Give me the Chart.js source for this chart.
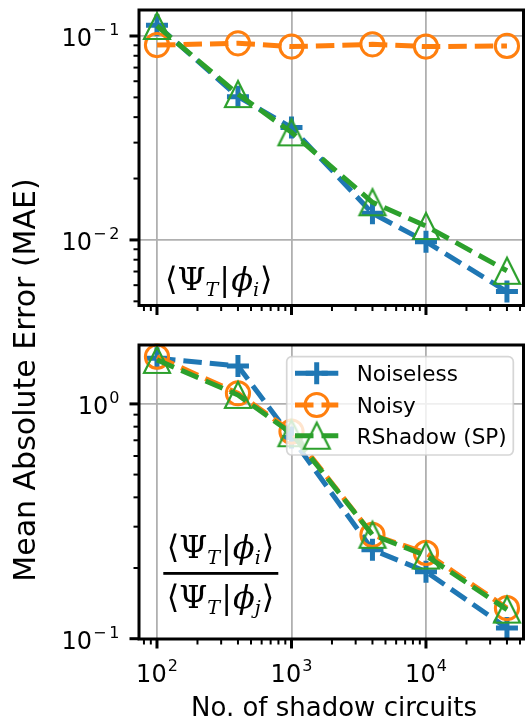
<!DOCTYPE html>
<html>
<head>
<meta charset="utf-8">
<script src="https://cdn.jsdelivr.net/npm/chart.js@4.4.1/dist/chart.umd.min.js"></script>
<style>
  html, body { margin: 0; padding: 0; background: #ffffff; }
  #wrap { position: relative; width: 527px; height: 720px; overflow: hidden; background: #ffffff; }
  #wrap canvas { position: absolute; left: 0; top: 0; }
</style>
</head>
<body>
<div id="wrap">
  <canvas id="overlapChart" width="527" height="720"></canvas>
  <canvas id="ratioChart" width="527" height="720"></canvas>
</div>
<script>
// ---- data -----------------------------------------------------------------
const shots = [100, 400, 1000, 4000, 10000, 40000];

// <Psi_T|phi_i>
const overlapNoiseless = [0.113, 0.0504, 0.0356, 0.0135, 0.0098, 0.00558];
const overlapNoisy     = [0.0903, 0.0921, 0.0887, 0.0910, 0.0887, 0.0894];
const overlapRShadow   = [0.112, 0.0519, 0.0337, 0.0153, 0.0117, 0.00706];

// <Psi_T|phi_i> / <Psi_T|phi_j>
const ratioNoiseless = [1.565, 1.451, 0.72, 0.239, 0.193, 0.111];
const ratioNoisy     = [1.589, 1.11, 0.762, 0.277, 0.232, 0.135];
const ratioRShadow   = [1.54, 1.092, 0.75, 0.277, 0.226, 0.133];

const seriesNames = ['Noiseless', 'Noisy', 'RShadow (SP)'];
const xTickExponents = [2, 3, 4];
const overlapTickExponents = [-1, -2];
const ratioTickExponents = [0, -1];
const xTitle = 'No. of shadow circuits';
const yTitle = 'Mean Absolute Error (MAE)';

// ---- styling ----------------------------------------------------------------
const SANS = '"DejaVu Sans", sans-serif';
const SERIF = '"DejaVu Serif", "DejaVu Sans", serif';
const COLORS = ['#1f77b4', '#ff7f0e', '#2ca02c'];
const GRID = '#b0b0b0';
const X_RANGE = [73.5, 53100];
const OVERLAP_RANGE = [0.00477, 0.1341];
const RATIO_RANGE = [0.0997, 1.782];
const PLOT_LEFT = 139, PLOT_RIGHT = 523.5;

// open triangle marker (apex up, equal width and height)
function triangleMarker(size, lw, color) {
  const s = 36;
  const c = document.createElement('canvas');
  c.width = s; c.height = s;
  const g = c.getContext('2d');
  const h = size / 2, m = s / 2;
  g.beginPath();
  g.moveTo(m, m - h);
  g.lineTo(m - h, m + h);
  g.lineTo(m + h, m + h);
  g.closePath();
  g.lineWidth = lw;
  g.lineJoin = 'miter';
  g.strokeStyle = color;
  g.stroke();
  return c;
}
const TRIANGLE = triangleMarker(26, 2.2, COLORS[2]);

function isPow10(v) {
  if (!(v > 0)) return false;
  const l = Math.log10(v);
  return Math.abs(l - Math.round(l)) < 1e-9;
}

function logTicks(lo, hi) {
  const out = [];
  for (let e = Math.floor(Math.log10(lo)); e <= Math.ceil(Math.log10(hi)); e++) {
    for (let m = 1; m < 10; m++) {
      const v = m * Math.pow(10, e);
      if (v >= lo * 0.9999 && v <= hi * 1.0001) out.push({ v, major: m === 1 });
    }
  }
  return out;
}

function buildDatasets(noiseless, noisy, rshadow) {
  const common = {
    borderWidth: 5,
    borderDash: [18.5, 8],
    borderCapStyle: 'butt',
    borderJoinStyle: 'round',
    tension: 0,
    fill: false,
    clip: false,
    pointBackgroundColor: 'rgba(0,0,0,0)'
  };
  return [
    Object.assign({}, common, {
      label: seriesNames[0],
      data: shots.map((x, i) => ({ x, y: noiseless[i] })),
      borderColor: COLORS[0],
      pointBorderColor: COLORS[0],
      pointStyle: 'cross',
      pointRadius: 11,
      pointBorderWidth: 5,
      order: 3
    }),
    Object.assign({}, common, {
      label: seriesNames[1],
      data: shots.map((x, i) => ({ x, y: noisy[i] })),
      borderColor: COLORS[1],
      pointBorderColor: COLORS[1],
      pointStyle: 'circle',
      pointRadius: 11.6,
      pointBorderWidth: 3,
      order: 2
    }),
    Object.assign({}, common, {
      label: seriesNames[2],
      data: shots.map((x, i) => ({ x, y: rshadow[i] })),
      borderColor: COLORS[2],
      pointBorderColor: COLORS[2],
      pointStyle: TRIANGLE,
      pointRadius: 14,
      pointBorderWidth: 2,
      order: 1
    })
  ];
}

// "10" with a raised exponent
function powerLabel(ctx, exp, x, baseline, align) {
  ctx.font = '24px ' + SANS;
  const wb = ctx.measureText('10').width;
  ctx.font = '16px ' + SANS;
  const parts = exp < 0 ? ['\u2212', String(-exp)] : [String(exp)];
  const gaps = exp < 0 ? [3, 0] : [0];
  let we = 0;
  parts.forEach((p, i) => { we += ctx.measureText(p).width + gaps[i]; });
  const total = wb + 1 + we;
  let sx = align === 'right' ? x - total : x - total / 2;
  ctx.textAlign = 'left';
  ctx.textBaseline = 'alphabetic';
  ctx.fillStyle = '#000';
  ctx.font = '24px ' + SANS;
  ctx.fillText('10', sx, baseline);
  let ex = sx + wb + 1;
  ctx.font = '16px ' + SANS;
  parts.forEach((p, i) => {
    ctx.fillText(p, ex, baseline - 11);
    ex += ctx.measureText(p).width + gaps[i];
  });
}

// simple math-style text run: <Psi_T|phi_k>
function braket(sub) {
  return [
    { t: '\u27E8' },
    { t: '\u03A8' },
    { t: 'T', italic: true, sub: true },
    { t: '|', dx: 1 },
    { t: '\u03D5', italic: true, dx: 1 },
    { t: sub, italic: true, sub: true },
    { t: '\u27E9', dx: 1 }
  ];
}
function mathWidth(ctx, pieces, size) {
  let w = 0;
  for (const p of pieces) {
    const sz = p.sub ? size * 0.6 : size;
    ctx.font = (p.italic ? 'italic ' : '') + sz + 'px ' + SERIF;
    w += ctx.measureText(p.t).width + (p.dx || 0);
  }
  return w;
}
function drawMath(ctx, pieces, x, baseline, size) {
  let cx = x;
  ctx.textAlign = 'left';
  ctx.textBaseline = 'alphabetic';
  ctx.fillStyle = '#000';
  for (const p of pieces) {
    const sz = p.sub ? size * 0.6 : size;
    ctx.font = (p.italic ? 'italic ' : '') + sz + 'px ' + SERIF;
    cx += (p.dx || 0);
    ctx.fillText(p.t, cx, baseline + (p.sub ? size * 0.2 : 0));
    cx += ctx.measureText(p.t).width;
  }
}

// axes frame, ticks and tick labels
function framePlugin(cfg) {
  return {
    id: 'frame',
    afterDatasetsDraw(chart) {
      const { ctx, chartArea: a, scales } = chart;
      const xs = scales.x, ys = scales.y;
      ctx.save();
      ctx.setLineDash([]);
      ctx.strokeStyle = '#000';
      ctx.lineCap = 'butt';
      // x ticks
      for (const t of logTicks(X_RANGE[0], X_RANGE[1])) {
        const px = xs.getPixelForValue(t.v);
        if (px < a.left - 0.5 || px > a.right + 0.5) continue;
        ctx.lineWidth = t.major ? 3 : 2;
        ctx.beginPath();
        ctx.moveTo(px, a.bottom);
        ctx.lineTo(px, a.bottom + (t.major ? 9.5 : 5.5));
        ctx.stroke();
      }
      // y ticks
      for (const t of logTicks(cfg.yRange[0], cfg.yRange[1])) {
        const py = ys.getPixelForValue(t.v);
        if (py < a.top - 0.5 || py > a.bottom + 0.5) continue;
        ctx.lineWidth = t.major ? 3 : 2;
        ctx.beginPath();
        ctx.moveTo(a.left, py);
        ctx.lineTo(a.left - (t.major ? 9.5 : 5.5), py);
        ctx.stroke();
      }
      // spines
      ctx.lineWidth = 3;
      ctx.lineJoin = 'miter';
      ctx.strokeRect(a.left, a.top, a.right - a.left, a.bottom - a.top);
      // y tick labels
      for (const e of cfg.yExponents) {
        const py = ys.getPixelForValue(Math.pow(10, e));
        powerLabel(ctx, e, 119.5, py + 10, 'right');
      }
      // x tick labels
      if (cfg.xLabels) {
        for (const e of xTickExponents) {
          const px = xs.getPixelForValue(Math.pow(10, e));
          powerLabel(ctx, e, px, 682, 'center');
        }
      }
      // in-panel quantity label
      cfg.annotate(ctx);
      ctx.restore();
    }
  };
}

const titlesPlugin = {
  id: 'titles',
  afterDraw(chart) {
    const ctx = chart.ctx;
    ctx.save();
    ctx.fillStyle = '#000';
    ctx.font = '26px ' + SANS;
    ctx.textAlign = 'center';
    ctx.textBaseline = 'alphabetic';
    ctx.fillText(xTitle, 334, 716);
    ctx.translate(35, 380);
    ctx.rotate(-Math.PI / 2);
    ctx.font = '30px ' + SANS;
    ctx.fillText(yTitle, 0, 0);
    ctx.restore();
  }
};

function drawLegendMarker(ctx, i, x, y) {
  ctx.save();
  ctx.setLineDash([]);
  if (i === 0) {
    ctx.strokeStyle = COLORS[0];
    ctx.lineWidth = 5;
    ctx.beginPath();
    ctx.moveTo(x - 11, y); ctx.lineTo(x + 11, y);
    ctx.moveTo(x, y - 11); ctx.lineTo(x, y + 11);
    ctx.stroke();
  } else if (i === 1) {
    ctx.strokeStyle = COLORS[1];
    ctx.lineWidth = 3;
    ctx.beginPath();
    ctx.arc(x, y, 11.6, 0, Math.PI * 2);
    ctx.stroke();
  } else {
    ctx.drawImage(TRIANGLE, x - TRIANGLE.width / 2, y - TRIANGLE.height / 2);
  }
  ctx.restore();
}

const legendPlugin = {
  id: 'mplLegend',
  afterDraw(chart) {
    const ctx = chart.ctx;
    const bx = 286.7, by = 356.7, bw = 226.6, bh = 98.3, r = 5;
    ctx.save();
    ctx.beginPath();
    ctx.moveTo(bx + r, by);
    ctx.lineTo(bx + bw - r, by);
    ctx.arcTo(bx + bw, by, bx + bw, by + r, r);
    ctx.lineTo(bx + bw, by + bh - r);
    ctx.arcTo(bx + bw, by + bh, bx + bw - r, by + bh, r);
    ctx.lineTo(bx + r, by + bh);
    ctx.arcTo(bx, by + bh, bx, by + bh - r, r);
    ctx.lineTo(bx, by + r);
    ctx.arcTo(bx, by, bx + r, by, r);
    ctx.closePath();
    ctx.fillStyle = 'rgba(255,255,255,0.8)';
    ctx.fill();
    ctx.strokeStyle = 'rgba(204,204,204,0.8)';
    ctx.lineWidth = 1.7;
    ctx.stroke();
    const rows = [373.3, 405, 435.7];
    seriesNames.forEach((name, i) => {
      const y = rows[i];
      ctx.save();
      ctx.strokeStyle = COLORS[i];
      ctx.lineWidth = 5;
      ctx.lineCap = 'butt';
      ctx.setLineDash([18.5, 8]);
      ctx.beginPath();
      ctx.moveTo(295, y);
      ctx.lineTo(338.3, y);
      ctx.stroke();
      ctx.restore();
      drawLegendMarker(ctx, i, 316.7, y);
      ctx.fillStyle = '#000';
      ctx.font = '21.5px ' + SANS;
      ctx.textAlign = 'left';
      ctx.textBaseline = 'alphabetic';
      ctx.fillText(name, 356.7, y + 7.8);
    });
    ctx.restore();
  }
};

function makeChart(canvasId, datasets, yRange, padTop, padBottom, plugins) {
  const gridColor = c => (c.tick && isPow10(c.tick.value)) ? GRID : 'rgba(0,0,0,0)';
  return new Chart(document.getElementById(canvasId), {
    type: 'line',
    data: { datasets },
    options: {
      responsive: false,
      animation: false,
      devicePixelRatio: 1,
      events: [],
      layout: {
        autoPadding: false,
        padding: { left: PLOT_LEFT, right: 527 - PLOT_RIGHT, top: padTop, bottom: padBottom }
      },
      plugins: { legend: { display: false }, tooltip: { enabled: false } },
      scales: {
        x: {
          type: 'logarithmic',
          min: X_RANGE[0], max: X_RANGE[1],
          ticks: { display: false },
          border: { display: false },
          grid: { color: gridColor, lineWidth: 1.8, drawTicks: false },
          afterFit: s => { s.height = 0; s.paddingLeft = 0; s.paddingRight = 0; }
        },
        y: {
          type: 'logarithmic',
          min: yRange[0], max: yRange[1],
          ticks: { display: false },
          border: { display: false },
          grid: { color: gridColor, lineWidth: 1.8, drawTicks: false },
          afterFit: s => { s.width = 0; s.paddingTop = 0; s.paddingBottom = 0; }
        }
      }
    },
    plugins
  });
}

// upper panel: overlaps
makeChart('overlapChart',
  buildDatasets(overlapNoiseless, overlapNoisy, overlapRShadow),
  OVERLAP_RANGE, 10, 720 - 305.5,
  [framePlugin({
    yRange: OVERLAP_RANGE,
    yExponents: overlapTickExponents,
    xLabels: false,
    annotate(ctx) { drawMath(ctx, braket('i'), 165, 290, 32); }
  })]
);

// lower panel: overlap ratios
makeChart('ratioChart',
  buildDatasets(ratioNoiseless, ratioNoisy, ratioRShadow),
  RATIO_RANGE, 345, 720 - 639,
  [framePlugin({
    yRange: RATIO_RANGE,
    yExponents: ratioTickExponents,
    xLabels: true,
    annotate(ctx) {
      const size = 32, cx = 220.5;
      const num = braket('i'), den = braket('j');
      const wn = mathWidth(ctx, num, size), wd = mathWidth(ctx, den, size);
      drawMath(ctx, num, cx - wn / 2, 558, size);
      drawMath(ctx, den, cx - wd / 2, 608, size);
      ctx.fillStyle = '#000';
      ctx.fillRect(163.3, 572, 115, 2.8);
    }
  }), legendPlugin, titlesPlugin]
);
</script>
</body>
</html>
